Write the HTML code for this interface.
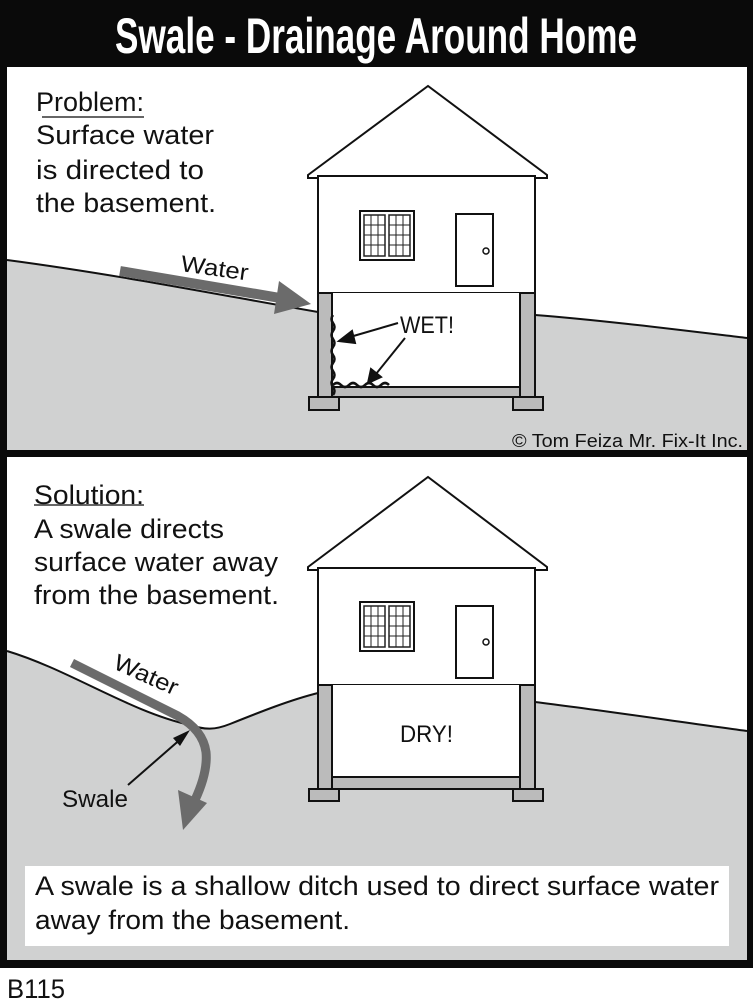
<!DOCTYPE html>
<html><head><meta charset="utf-8"><style>
html,body{margin:0;padding:0;background:#fff;}
svg{display:block;}
text{font-family:"Liberation Sans",sans-serif;fill:#111;}
</style></head><body>
<svg width="753" height="1000" viewBox="0 0 753 1000" xmlns="http://www.w3.org/2000/svg">
<rect x="0" y="0" width="753" height="1000" fill="#fff"/>
<rect x="0" y="0" width="753" height="968" fill="#0a0a0a"/>
<rect x="7" y="67" width="740" height="383" fill="#fff"/>
<rect x="7" y="457" width="740" height="503" fill="#fff"/>
<text x="376" y="53" text-anchor="middle" font-family="Liberation Sans Narrow, Liberation Sans, sans-serif" font-weight="bold" font-size="50" style="fill:#fff" textLength="522" lengthAdjust="spacingAndGlyphs">Swale  - Drainage Around Home</text>

<!-- PANEL 1 -->
<path d="M7 260 C120 275 220 295 318 312 L318 450 L7 450 Z" fill="#d0d1d1"/>
<path d="M535 315 C600 320 680 330 747 338 L747 450 L535 450 Z" fill="#d0d1d1"/>
<rect x="318" y="293" width="217" height="157" fill="#d0d1d1"/>
<path d="M7 260 C120 275 220 295 318 312" fill="none" stroke="#111" stroke-width="2"/>
<path d="M535 315 C600 320 680 330 747 338" fill="none" stroke="#111" stroke-width="2"/>
<g stroke="#111" stroke-width="2">
<polygon points="308,175 428,86 547,175 547,178 308,178" fill="#fff"/>
<rect x="318" y="176" width="217" height="117" fill="#fff"/>
<rect x="332" y="293" width="188" height="94" fill="#fff" stroke="none"/>
<rect x="318" y="293" width="14" height="104" fill="#bbb"/>
<rect x="520" y="293" width="15" height="104" fill="#bbb"/>
<rect x="332" y="387" width="188" height="10" fill="#bbb"/>
<rect x="309" y="397" width="30" height="13" fill="#bbb"/>
<rect x="513" y="397" width="30" height="13" fill="#bbb"/>
<rect x="360" y="211" width="54" height="49" fill="#fff"/>
<rect x="456" y="214" width="37" height="72" fill="#fff"/>
<circle cx="486" cy="251" r="3" fill="#fff" stroke-width="1.5"/>
</g>
<g stroke="#222" stroke-width="1">
<rect x="364" y="215" width="21" height="41" fill="#fff" stroke-width="1.5"/>
<rect x="389" y="215" width="21" height="41" fill="#fff" stroke-width="1.5"/>
<path d="M364 225H385M364 235H385M364 245H385M371 215V256M378 215V256M389 225H410M389 235H410M389 245H410M396 215V256M403 215V256"/>
</g>
<path d="M333 315 q-3 4 0 8 q3 4 0 8 q-3 4 0 8 q3 4 0 8 q-3 4 0 8 q3 4 0 8 q-3 4 0 8 q3 4 0 8 q-3 4 0 8 q3 4 0 8" fill="none" stroke="#111" stroke-width="2.5"/>
<path d="M333 385 q4 -4 8 0 q4 4 8 0 q4 -4 8 0 q4 4 8 0 q4 -4 8 0 q4 4 8 0 q4 -4 8 0" fill="none" stroke="#111" stroke-width="2.5"/>
<text x="400" y="333" font-size="24" textLength="54" lengthAdjust="spacingAndGlyphs">WET!</text>
<g stroke="#111" stroke-width="2" fill="#111">
<line x1="398" y1="323" x2="350" y2="337"/>
<polygon points="339,341 352,331 355,343"/>
<line x1="405" y1="338" x2="376" y2="374"/>
<polygon points="368,383 371,369 381,377"/>
</g>
<line x1="120" y1="271" x2="286" y2="299" stroke="#6b6b6b" stroke-width="10"/>
<polygon points="279,281 311,304 274,314" fill="#6b6b6b"/>
<text x="180" y="271" font-size="23" transform="rotate(8 180 271)" textLength="68" lengthAdjust="spacingAndGlyphs">Water</text>
<text x="36" y="111" font-size="27" textLength="108" lengthAdjust="spacingAndGlyphs">Problem:</text>
<line x1="42" y1="117" x2="144" y2="117" stroke="#333" stroke-width="1.5"/>
<text x="36" y="144" font-size="27" textLength="178" lengthAdjust="spacingAndGlyphs">Surface water</text>
<text x="36" y="179" font-size="27" textLength="168" lengthAdjust="spacingAndGlyphs">is directed to</text>
<text x="36" y="212" font-size="27" textLength="180" lengthAdjust="spacingAndGlyphs">the basement.</text>
<text x="512" y="447" font-size="18" textLength="231" lengthAdjust="spacingAndGlyphs">© Tom Feiza Mr. Fix-It Inc.</text>

<!-- PANEL 2 -->
<path d="M7 651 C70 670 130 712 190 725 C205 730 215 730 230 724 C260 712 290 700 318 693 L318 960 L7 960 Z" fill="#d0d1d1"/>
<path d="M535 702 C600 710 680 722 747 731 L747 960 L535 960 Z" fill="#d0d1d1"/>
<rect x="318" y="685" width="217" height="275" fill="#d0d1d1"/>
<path d="M7 651 C70 670 130 712 190 725 C205 730 215 730 230 724 C260 712 290 700 318 693" fill="none" stroke="#111" stroke-width="2"/>
<path d="M535 702 C600 710 680 722 747 731" fill="none" stroke="#111" stroke-width="2"/>
<g stroke="#111" stroke-width="2">
<polygon points="308,567 428,477 547,567 547,570 308,570" fill="#fff"/>
<rect x="318" y="568" width="217" height="117" fill="#fff"/>
<rect x="332" y="685" width="188" height="92" fill="#fff" stroke="none"/>
<rect x="318" y="685" width="14" height="104" fill="#bbb"/>
<rect x="520" y="685" width="15" height="104" fill="#bbb"/>
<rect x="332" y="777" width="188" height="12" fill="#bbb"/>
<rect x="309" y="789" width="30" height="12" fill="#bbb"/>
<rect x="513" y="789" width="30" height="12" fill="#bbb"/>
<rect x="360" y="602" width="54" height="49" fill="#fff"/>
<rect x="456" y="606" width="37" height="72" fill="#fff"/>
<circle cx="486" cy="642" r="3" fill="#fff" stroke-width="1.5"/>
</g>
<g stroke="#222" stroke-width="1">
<rect x="364" y="606" width="21" height="41" fill="#fff" stroke-width="1.5"/>
<rect x="389" y="606" width="21" height="41" fill="#fff" stroke-width="1.5"/>
<path d="M364 616H385M364 626H385M364 636H385M371 606V647M378 606V647M389 616H410M389 626H410M389 636H410M396 606V647M403 606V647"/>
</g>
<text x="400" y="742" font-size="24" textLength="53" lengthAdjust="spacingAndGlyphs">DRY!</text>
<path d="M72 663 L178 716 Q203 730 206 752 Q208 772 195 800" fill="none" stroke="#6b6b6b" stroke-width="9"/>
<polygon points="178,790 207,803 183,830" fill="#6b6b6b"/>
<text x="112" y="668" font-size="23" transform="rotate(24 112 668)" textLength="68" lengthAdjust="spacingAndGlyphs">Water</text>
<line x1="128" y1="785" x2="183" y2="737" stroke="#111" stroke-width="2"/>
<polygon points="190,730 180,746 173,738" fill="#111"/>
<text x="62" y="807" font-size="24" textLength="66" lengthAdjust="spacingAndGlyphs">Swale</text>
<text x="34" y="504" font-size="27" textLength="110" lengthAdjust="spacingAndGlyphs">Solution:</text>
<line x1="34" y1="505" x2="144" y2="505" stroke="#333" stroke-width="1.5"/>
<text x="34" y="538" font-size="27" textLength="190" lengthAdjust="spacingAndGlyphs">A swale directs</text>
<text x="34" y="571" font-size="27" textLength="244" lengthAdjust="spacingAndGlyphs">surface water away</text>
<text x="34" y="604" font-size="27" textLength="245" lengthAdjust="spacingAndGlyphs">from the basement.</text>
<rect x="25" y="866" width="704" height="80" fill="#fff"/>
<text x="35" y="895" font-size="27" textLength="684" lengthAdjust="spacingAndGlyphs">A swale is a shallow ditch used to direct surface water</text>
<text x="35" y="929" font-size="27" textLength="315" lengthAdjust="spacingAndGlyphs">away from the basement.</text>
<text x="7" y="998" font-size="27" textLength="58" lengthAdjust="spacingAndGlyphs">B115</text>
</svg>
</body></html>
